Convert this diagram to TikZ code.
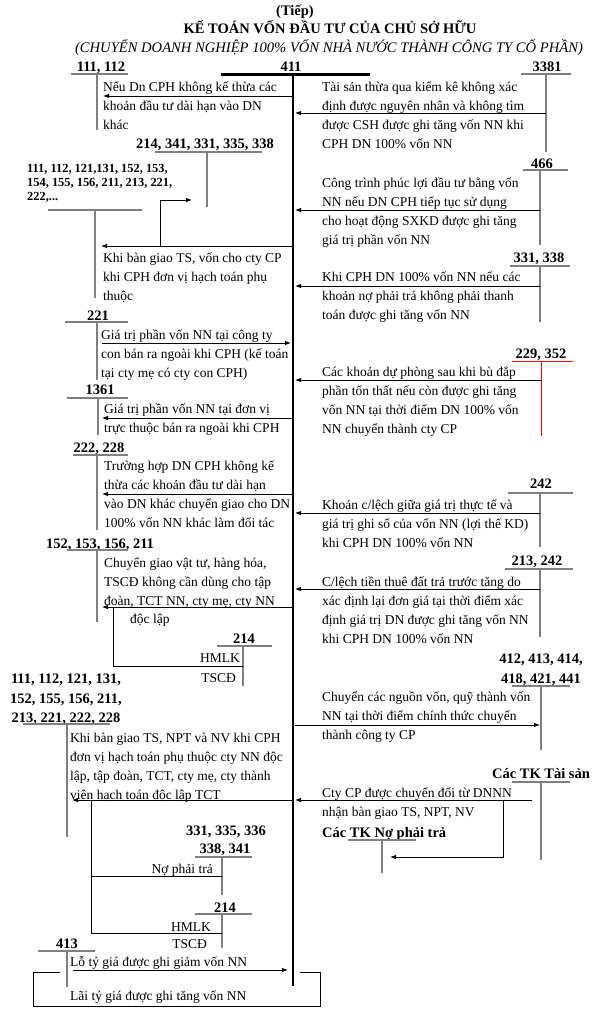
\documentclass[tikz,border=0pt]{standalone}
\usepackage{fontspec}
\setmainfont{Liberation Serif}
\usetikzlibrary{arrows.meta}
\definecolor{tgray}{RGB}{128,128,128}
\tikzset{
  tline/.style={draw=tgray, line width=1.4pt},
  arr/.style={draw=black, line width=0.9pt, -{Latex[length=6pt,width=4.5pt]}},
  conn/.style={draw=black, line width=0.9pt},
  txt/.style={anchor=base west, inner sep=0pt, font=\fontsize{13.5}{16}\selectfont},
  txtr/.style={anchor=base east, inner sep=0pt, font=\fontsize{13.5}{16}\selectfont},
  lbl/.style={anchor=base, inner sep=0pt, font=\fontsize{14.5}{17}\selectfont\bfseries},
  lbls/.style={anchor=base west, inner sep=0pt, font=\fontsize{12.4}{14}\selectfont\bfseries},
}
% T-account: [style]{name}{hx1}{hx2}{hy}{vx}
\newcommand\tacc[6][]{%
  \coordinate (#2h1) at (#3,#5); \coordinate (#2h2) at (#4,#5);
  \coordinate (#2v1) at (#6,#5);
  \draw[tline,#1] (#2h1) -- (#2h2);}
\newcommand\tvert[4][]{% [style]{name}{vx}{vy2}
  \coordinate (#2v2) at (#3,#4);
  \draw[tline,#1] (#2v1) -- (#2v2);}
% text block: name, x, first middle y, lines
\newcommand\tblock[4]{%
  \foreach \ln [count=\k from 0] in {#4} {\node[txt] (#1\k) at (#2,#3+4+19*\k) {\ln};}}
\newcommand\arrow[5]{% name, x1, y, x2, style
  \coordinate (#1s) at (#2,#3); \coordinate (#1e) at (#4,#3);
  \draw[#5] (#1s) -- (#1e);}
\begin{document}
\begin{tikzpicture}[x=1pt,y=-1pt]
\useasboundingbox (0,0) rectangle (592,1010);

% ---------- header ----------
\node[lbl] (tiep) at (295,15) {(Tiếp)};
\node[lbl] (title) at (330,33) {KẾ TOÁN VỐN ĐẦU TƯ CỦA CHỦ SỞ HỮU};
\node[anchor=base, inner sep=0pt, font=\fontsize{14.6}{17}\selectfont\itshape] (sub) at (329,52)
  {(CHUYỂN DOANH NGHIỆP 100\% VỐN NHÀ NƯỚC THÀNH CÔNG TY CỔ PHẦN)};

% ---------- account 411 ----------
\node[lbl] (l411) at (291,71) {411};
\coordinate (h411a) at (221,74); \coordinate (h411b) at (370,74);
\coordinate (v411a) at (293,74); \coordinate (v411b) at (293,986);
\draw[line width=3pt] (h411a) -- (h411b);
\draw[line width=2pt] (v411a) -- (v411b);

% ---------- T accounts ----------
\node[lbl] (l111) at (101,71) {111, 112};
\tacc{tA}{71}{128}{74}{97}\tvert{tA}{97}{130}
\node[lbl] (l3381) at (547,71) {3381};
\tacc{tC}{521}{571}{74}{546}\tvert{tC}{546}{152}
\node[lbl] (l214a) at (205,148) {214, 341, 331, 335, 338};
\tacc{tD}{155}{262}{152}{207}\tvert{tD}{207}{207}
\node[lbls] (lsa) at (27,172) {111, 112, 121,131, 152, 153,};
\node[lbls] (lsb) at (27,186) {154, 155, 156, 211, 213, 221,};
\node[lbls] (lsc) at (27,200) {222,...};
\tacc{tE}{48}{142}{210}{95}\tvert{tE}{95}{298}
\node[lbl] (l466) at (542,168) {466};
\tacc{tF}{523}{568}{170}{540}\tvert{tF}{540}{245}
\node[lbl] (l331) at (539,262) {331, 338};
\tacc{tG}{510}{570}{266}{540}\tvert{tG}{540}{322}
\node[lbl] (l221) at (98,320) {221};
\tacc{tH}{65}{128}{322}{97}\tvert{tH}{97}{380}
\node[lbl] (l1361) at (100,394) {1361};
\tacc{tI}{67}{128}{398}{98}\tvert{tI}{98}{435}
\node[lbl] (l222) at (99,452) {222, 228};
\tacc{tJ}{73}{128}{455}{97}\tvert{tJ}{97}{530}
\node[lbl] (l229) at (541,358) {229, 352};
\tacc[draw=red,line width=0.9pt]{tK}{512}{573}{361}{541}\tvert[draw=red,line width=0.9pt]{tK}{541}{436}
\node[lbl] (l242) at (541,488) {242};
\tacc{tL}{508}{573}{493}{540}\tvert{tL}{540}{547}
\node[lbl] (l213) at (537,565) {213, 242};
\tacc{tM}{505}{573}{569}{540}\tvert{tM}{540}{637}
\node[lbl] (l152) at (100,548) {152, 153, 156, 211};
\tacc{tN}{67}{128}{550}{97}\tvert{tN}{97}{622}
\node[lbl] (l214b) at (244,643) {214};
\tacc{tO}{217}{272}{646}{243}\tvert{tO}{243}{686}
\node[txtr] (hmlka) at (240,662) {HMLK};
\node[txtr] (tscda) at (236,682) {TSCĐ};
\node[lbl] (l412a) at (541,663) {412, 413, 414,};
\node[lbl] (l412b) at (541,683) {418, 421, 441};
\tacc{tP}{512}{570}{686}{541}\tvert{tP}{541}{750}
\node[lbl] (l111a) at (66,683) {111, 112, 121, 131,};
\node[lbl] (l111b) at (66,703) {152, 155, 156, 211,};
\node[lbl] (l111c) at (66,722) {213, 221, 222, 228};
\tacc{tQ}{23}{110}{724}{67}\tvert{tQ}{67}{837}
\node[lbl] (l331b) at (226,835) {331, 335, 336};
\node[lbl] (l338) at (225,853) {338, 341};
\tacc{tR}{195}{252}{857}{222}\tvert{tR}{222}{895}
\node[txtr] (npt) at (213,873) {Nợ phải trả};
\node[lbl] (l214c) at (225,912) {214};
\tacc{tS}{195}{252}{914}{222}\tvert{tS}{222}{948}
\node[txtr] (hmlkb) at (211,931) {HMLK};
\node[txtr] (tscdb) at (207,948) {TSCĐ};
\node[lbl] (ltk1) at (541,778) {Các TK Tài sản};
\tacc{tT}{512}{570}{782}{541}\tvert{tT}{541}{860}
\node[lbl, anchor=base west] (ltk2) at (322,837) {Các TK Nợ phải trả};
\tacc{tU}{348}{416}{840}{382}\tvert{tU}{382}{873}
\node[lbl] (l413) at (67,948) {413};
\tacc{tV}{38}{95}{951}{67}\tvert{tV}{67}{987}

% ---------- texts ----------
\tblock{ta}{103}{87}{{Nếu Dn CPH không kế thừa các},{khoản đầu tư dài hạn vào DN},{khác}}
\tblock{tb}{322}{87}{{Tài sản thừa qua kiểm kê không xác},{định được nguyên nhân và không tìm},{được CSH được ghi tăng vốn NN khi},{CPH DN 100\% vốn NN}}
\tblock{tc}{103}{258}{{Khi bàn giao TS, vốn cho cty CP},{khi CPH đơn vị hạch toán phụ},{thuộc}}
\tblock{td}{322}{183}{{Công trình phúc lợi đầu tư bằng vốn},{NN nếu DN CPH tiếp tục sử dụng},{cho hoạt động SXKD được ghi tăng},{giá trị phần vốn NN}}
\tblock{te}{322}{277}{{Khi CPH DN 100\% vốn NN nếu các},{khoản nợ phải trả không phải thanh},{toán được ghi tăng vốn NN}}
\tblock{tf}{101}{335}{{Giá trị phần vốn NN tại công ty},{con bán ra ngoài khi CPH (kế toán},{tại cty mẹ có cty con CPH)}}
\tblock{tg}{104}{409}{{Giá trị phần vốn NN tại đơn vị},{trực thuộc bán ra ngoài khi CPH}}
\tblock{th}{104}{466}{{Trường hợp DN CPH không kế},{thừa các khoản đầu tư dài hạn},{vào DN khác chuyển giao cho DN},{100\% vốn NN khác làm đối tác}}
\tblock{ti}{322}{372}{{Các khoản dự phòng sau khi bù đắp},{phần tổn thất nếu còn được ghi tăng},{vốn NN tại thời điểm DN 100\% vốn},{NN chuyển thành cty CP}}
\tblock{tj}{322}{505}{{Khoản c/lệch giữa giá trị thực tế và},{giá trị ghi sổ của vốn NN (lợi thế KD)},{khi CPH DN 100\% vốn NN}}
\tblock{tk}{322}{582}{{C/lệch tiền thuê đất trả trước tăng do},{xác định lại đơn giá tại thời điểm xác},{định giá trị DN được ghi tăng vốn NN},{khi CPH DN 100\% vốn NN}}
\tblock{tl}{104}{563}{{Chuyển giao vật tư, hàng hóa,},{TSCĐ không cần dùng cho tập},{đoàn, TCT NN, cty mẹ, cty NN}}
\node[txt] (tldl) at (130,623) {độc lập};
\tblock{tm}{322}{697}{{Chuyển các nguồn vốn, quỹ thành vốn},{NN tại thời điểm chính thức chuyển},{thành công ty CP}}
\tblock{tn}{70}{738}{{Khi bàn giao TS, NPT và NV khi CPH},{đơn vị hạch toán phụ thuộc cty NN độc},{lập, tập đoàn, TCT, cty mẹ, cty thành},{viên hạch toán độc lập TCT}}
\tblock{to}{322}{793}{{Cty CP được chuyển đổi từ DNNN},{nhận bàn giao TS, NPT, NV}}
\node[txt] (tlo) at (70,966) {Lỗ tỷ giá được ghi giảm vốn NN};
\node[txt] (tlai) at (70,1000) {Lãi tỷ giá được ghi tăng vốn NN};

% ---------- connectors ----------
\arrow{a1}{293}{96}{103}{arr}
\arrow{a2}{546}{113}{295}{arr}
\arrow{a3}{293}{246}{101}{arr}
\coordinate (b1s) at (160,246); \coordinate (b1e) at (192,200);
\draw[arr] (b1s) |- (b1e);
\arrow{a4}{540}{210}{295}{arr}
\arrow{a5}{540}{286}{295}{arr}
\arrow{a6}{102}{343}{291}{arr}
\arrow{a7}{293}{418}{102}{arr}
\arrow{a8}{293}{494}{102}{arr}
\arrow{a9}{541}{380}{295}{arr}
\arrow{a10}{540}{513}{295}{arr}
\arrow{a11}{540}{589}{295}{arr}
\arrow{a12}{293}{607}{102}{arr}
\coordinate (b2s) at (113,607); \coordinate (b2e) at (243,666);
\draw[conn] (b2s) |- (b2e);
\arrow{a13}{295}{725}{540}{arr}
\arrow{a14}{293}{800}{72}{arr}
\coordinate (b3s) at (91,800); \coordinate (b3e) at (222,933);
\coordinate (b3m) at (91,876); \coordinate (b3n) at (222,876);
\draw[conn] (b3s) |- (b3e);
\draw[conn] (b3m) -- (b3n);
\arrow{a15}{532}{800}{295}{arr}
\coordinate (b4s) at (503,800); \coordinate (b4e) at (390,857);
\draw[arr] (b4s) |- (b4e);
\arrow{a16}{73}{970}{288}{arr}
\coordinate (lp1) at (60,972); \coordinate (lp2) at (33,1006);
\coordinate (lp3) at (320,972); \coordinate (lp4) at (300,972);
\draw[conn] (lp1) -| (lp2) -| (lp3) -- (lp4);
\end{tikzpicture}
\end{document}
